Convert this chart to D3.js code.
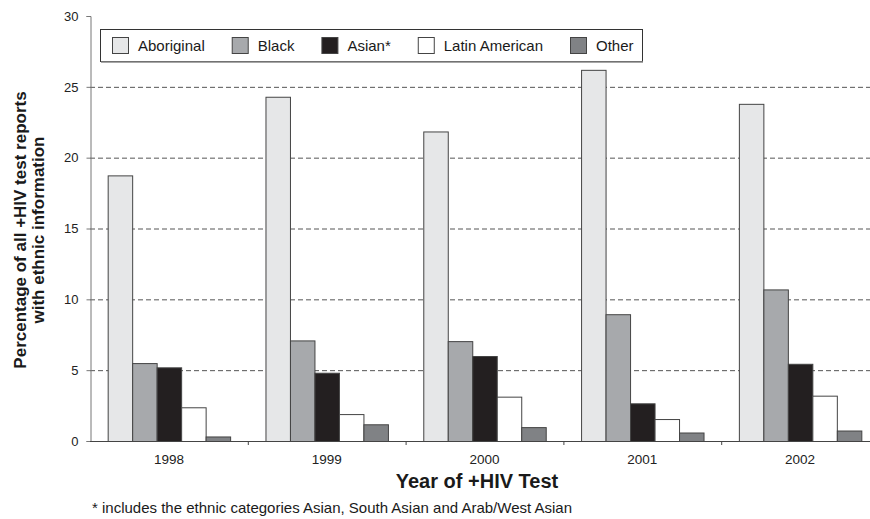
<!DOCTYPE html>
<html><head><meta charset="utf-8">
<script src="https://cdn.jsdelivr.net/npm/d3@7"></script>
<style>body{margin:0;background:#fff}svg{display:block;font-family:"Liberation Sans",Arial,sans-serif}</style>
</head><body><svg id="c" width="870" height="519"></svg>
<script>
const years = ["1998","1999","2000","2001","2002"];
const seriesNames = ["Aboriginal","Black","Asian*","Latin American","Other"];
const aboriginal = [18.75, 24.3, 21.85, 26.2, 23.8];
const black = [5.5, 7.1, 7.05, 8.95, 10.7];
const asian = [5.2, 4.82, 6.0, 2.66, 5.45];
const latinAmerican = [2.38, 1.9, 3.13, 1.55, 3.2];
const other = [0.32, 1.18, 0.98, 0.6, 0.74];
const yTicks = [0,5,10,15,20,25,30];
const colors = ["#e6e7e8","#a7a9ac","#231f20","#ffffff","#808285"];

const seriesValues = [aboriginal, black, asian, latinAmerican, other];
const svg = d3.select("#c");
const x0 = d3.scaleBand().domain(years).range([90, 879]).paddingInner(0.224).paddingOuter(0.112);
const x1 = d3.scaleBand().domain(seriesNames).range([0, x0.bandwidth()]);
const y = d3.scaleLinear().domain([0,30]).range([441,16]);

// gridlines
svg.append("g").selectAll("line").data(yTicks.filter(t=>t>0&&t<30)).join("line")
  .attr("x1",90).attr("x2",880).attr("y1",d=>y(d)+0.5).attr("y2",d=>y(d)+0.5)
  .attr("stroke","#555").attr("stroke-width",1).attr("stroke-dasharray","5,3");

// bars
const g = svg.append("g").selectAll("g").data(years).join("g")
  .attr("transform",d=>`translate(${x0(d)},0)`);
g.selectAll("rect").data((d,i)=>seriesNames.map((s,j)=>({s, v:seriesValues[j][i], j}))).join("rect")
  .attr("x",d=>x1(d.s)+0.5).attr("width",x1.bandwidth())
  .attr("y",d=>y(d.v)+0.5).attr("height",d=>y(0)-y(d.v))
  .attr("fill",d=>colors[d.j]).attr("stroke","#444").attr("stroke-width",1);

// y axis
const ya = svg.append("g").attr("transform","translate(90.5,0)")
  .call(d3.axisLeft(y).tickValues(yTicks).tickSize(4).tickPadding(8));
ya.select(".domain").attr("stroke","#777");
ya.selectAll(".tick line").attr("stroke","#777");
ya.selectAll("text").attr("font-size",13).attr("fill","#222").attr("font-family","Liberation Sans, Arial, sans-serif");

// x axis
const xa = svg.append("g").attr("transform","translate(0,441.5)")
  .call(d3.axisBottom(x0).tickSize(0).tickPadding(13));
xa.select(".domain").remove();
svg.append("line").attr("x1",90).attr("x2",880).attr("y1",441.5).attr("y2",441.5).attr("stroke","#444");
xa.selectAll("text").attr("font-size",13.5).attr("fill","#222").attr("font-family","Liberation Sans, Arial, sans-serif");
svg.append("g").selectAll("line").data(years.slice(1)).join("line")
  .attr("x1",d=>x0(d)-x0.step()*x0.paddingInner()/2+0.5).attr("x2",d=>x0(d)-x0.step()*x0.paddingInner()/2+0.5)
  .attr("y1",441).attr("y2",445).attr("stroke","#444");

// axis titles
svg.append("text").attr("x",477).attr("y",488).attr("text-anchor","middle")
  .attr("font-size",20).attr("font-weight","bold").attr("fill","#1a1a1a").text("Year of +HIV Test");
const yt = svg.append("text").attr("transform","translate(0,230) rotate(-90)")
  .attr("text-anchor","middle").attr("font-size",17).attr("font-weight","bold").attr("fill","#1a1a1a");
yt.append("tspan").attr("x",0).attr("y",26).text("Percentage of all +HIV test reports");
yt.append("tspan").attr("x",0).attr("y",44).text("with ethnic information");

// footnote
svg.append("text").attr("x",92).attr("y",513).attr("font-size",15).attr("fill","#1a1a1a")
  .text("* includes the ethnic categories Asian, South Asian and Arab/West Asian");

// legend
const lg = svg.append("g");
lg.append("rect").attr("x",100.5).attr("y",29.5).attr("width",542).attr("height",32)
  .attr("fill","#fff").attr("stroke","#333").attr("stroke-width",1);
lg.append("line").attr("x1",101).attr("x2",643).attr("y1",62).attr("y2",62).attr("stroke","#888").attr("stroke-width",1.5);
let lx = 112;
seriesNames.forEach((s,i)=>{
  lg.append("rect").attr("x",lx+0.5).attr("y",37.5).attr("width",16).attr("height",16)
    .attr("fill",colors[i]).attr("stroke","#444");
  const t = lg.append("text").attr("x",lx+26).attr("y",51).attr("font-size",15).attr("fill","#1a1a1a").text(s);
  lx = lx + 26 + t.node().getComputedTextLength() + 27;
});
</script></body></html>
